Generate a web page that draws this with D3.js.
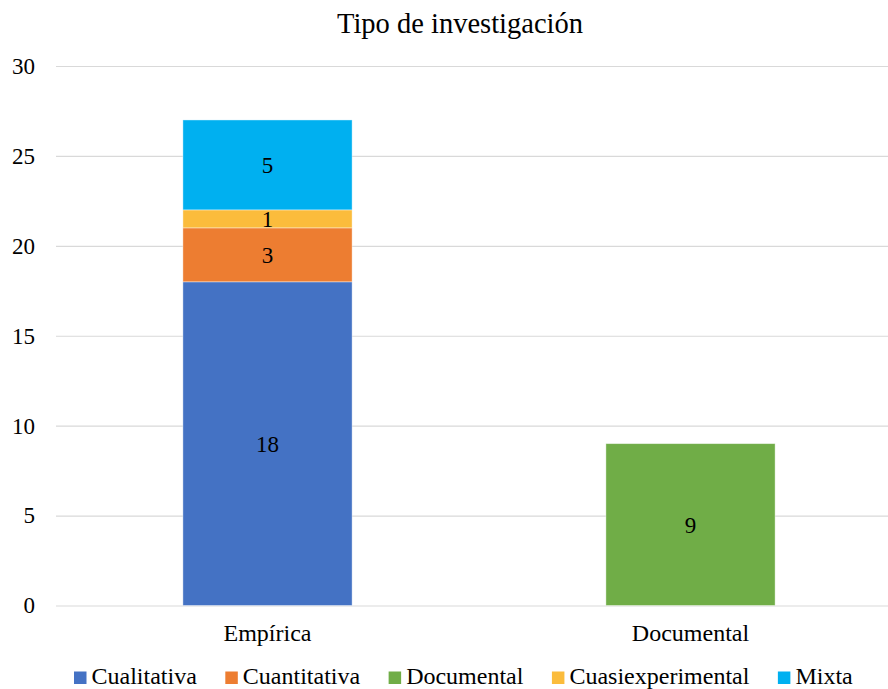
<!DOCTYPE html>
<html>
<head>
<meta charset="utf-8">
<script src="https://cdn.jsdelivr.net/npm/d3@7"></script>
<style>
  body { margin: 0; background: #fff; }
</style>
</head>
<body>
<svg id="chart" width="888" height="689" font-family="Liberation Serif"></svg>
<script>
const categories = ["Empírica", "Documental"]
const seriesNames = ["Cualitativa", "Cuantitativa", "Documental", "Cuasiexperimental", "Mixta"]
const seriesColors = ["#4472C4", "#ED7D31", "#70AD47", "#FBBC3C", "#00B0F0"]
const cualitativa = [18, 0]
const cuantitativa = [3, 0]
const documental = [0, 9]
const cuasiexperimental = [1, 0]
const mixta = [5, 0]
const yTicks = [0, 5, 10, 15, 20, 25, 30]

const FONT = "Liberation Serif"
const width = 888, height = 689
const margin = {top: 66, left: 56, right: -14, bottom: 83.5}

let svg = d3.select("#chart")

// build rows for d3.stack
let values = [cualitativa, cuantitativa, documental, cuasiexperimental, mixta]
let rows = categories.map((c, i) => {
    let r = {cat: c}
    seriesNames.forEach((s, j) => r[s] = values[j][i])
    return r
})
let stacked = d3.stack().keys(seriesNames)(rows)

let x = d3.scaleBand()
    .domain(categories)
    .range([margin.left, width - margin.right])
    .paddingInner(0.6)
    .paddingOuter(0.3)
let y = d3.scaleLinear()
    .domain([0, 30])
    .range([height - margin.bottom, margin.top])

let color = d3.scaleOrdinal().domain(seriesNames).range(seriesColors)

// gridlines + y labels
let gAxis = svg.append("g")
    .attr("transform", `translate(${margin.left},0)`)
    .call(d3.axisLeft(y).tickValues(yTicks).tickSize(-(width - margin.left - margin.right)).tickPadding(21))
gAxis.attr("font-family", FONT).attr("font-size", 23)
gAxis.select(".domain").remove()
gAxis.selectAll(".tick line").attr("stroke", "#d9d9d9").attr("stroke-width", 1.2)
gAxis.selectAll(".tick text").attr("fill", "#000")

// bars
let layers = svg.append("g").selectAll("g")
    .data(stacked)
    .join("g")
    .attr("fill", d => color(d.key))

layers.selectAll("rect")
    .data(d => d.map(p => ({key: d.key, p: p})))
    .join("rect")
    .filter(d => d.p[1] - d.p[0] > 0)
    .attr("x", d => x(d.p.data.cat))
    .attr("y", d => y(d.p[1]))
    .attr("width", x.bandwidth())
    .attr("height", d => y(d.p[0]) - y(d.p[1]))
    .attr("stroke", "#ffffff")
    .attr("stroke-opacity", 0.5)
    .attr("stroke-width", 0.8)

// data labels
let labels = []
stacked.forEach(s => s.forEach(p => {
    if (p[1] - p[0] > 0) labels.push({cat: p.data.cat, v: p[1] - p[0], mid: (p[0] + p[1]) / 2})
}))
svg.append("g")
    .attr("font-family", FONT)
    .attr("font-size", 23)
    .selectAll("text")
    .data(labels)
    .join("text")
    .attr("x", d => x(d.cat) + x.bandwidth() / 2)
    .attr("y", d => y(d.mid))
    .attr("dy", "0.35em")
    .attr("text-anchor", "middle")
    .text(d => d.v)

// category labels
svg.append("g")
    .attr("font-family", FONT)
    .attr("font-size", 24)
    .selectAll("text")
    .data(categories)
    .join("text")
    .attr("x", d => x(d) + x.bandwidth() / 2)
    .attr("y", 641)
    .attr("text-anchor", "middle")
    .text(d => d)

// title
svg.append("text")
    .attr("x", 460)
    .attr("y", 33)
    .attr("text-anchor", "middle")
    .attr("font-family", FONT)
    .attr("font-size", 28.5)
    .text("Tipo de investigación")

// legend
let legend = svg.append("g")
    .attr("font-family", FONT)
    .attr("font-size", 24)
let lx = 74
seriesNames.forEach((s, i) => {
    legend.append("rect")
        .attr("x", lx)
        .attr("y", 671.5)
        .attr("width", 12.5)
        .attr("height", 12.5)
        .attr("fill", seriesColors[i])
    let t = legend.append("text")
        .attr("x", lx + 17.5)
        .attr("y", 684)
        .text(s)
    lx += 17.5 + t.node().getComputedTextLength() + 28.5
})
</script>
</body>
</html>
